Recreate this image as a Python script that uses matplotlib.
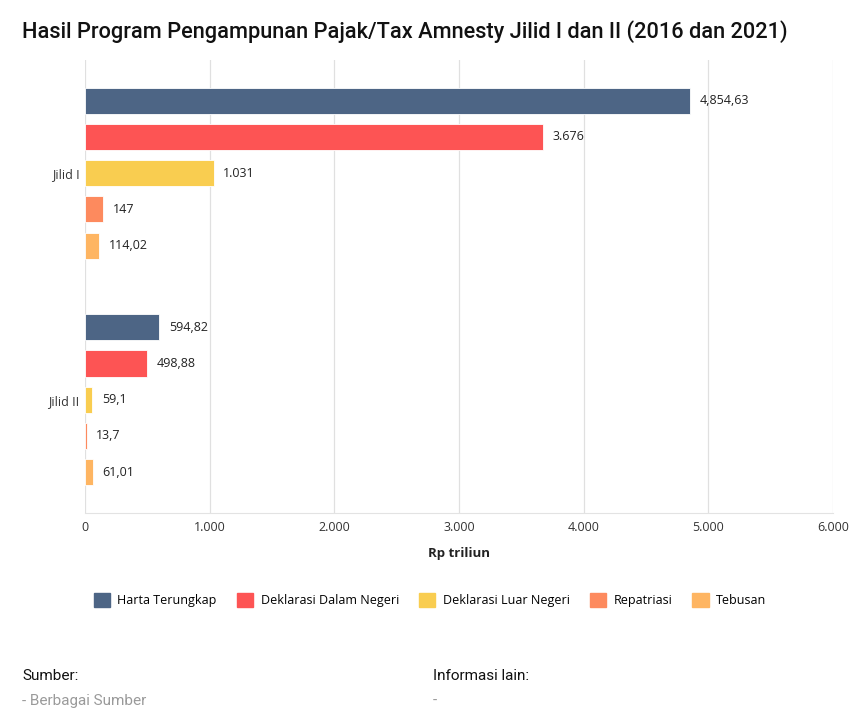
import matplotlib.pyplot as plt
import numpy as np
from matplotlib.patches import Patch

plt.rcParams["font.family"] = ["Open Sans", "DejaVu Sans"]

groups = ["Jilid I", "Jilid II"]
series = ["Harta Terungkap", "Deklarasi Dalam Negeri", "Deklarasi Luar Negeri",
          "Repatriasi", "Tebusan"]
colors = ["#4d6585", "#fd5454", "#f9cd50", "#fd8a5e", "#feb562"]

# values per series, [Jilid I, Jilid II]
values = [
    [4854.63, 594.82],
    [3676, 498.88],
    [1031, 59.1],
    [147, 13.7],
    [114.02, 61.01],
]
labels = [
    ["4,854,63", "594,82"],
    ["3.676", "498,88"],
    ["1.031", "59,1"],
    ["147", "13,7"],
    ["114,02", "61,01"],
]

xticks = [0, 1000, 2000, 3000, 4000, 5000, 6000]
xtick_labels = ["0", "1.000", "2.000", "3.000", "4.000", "5.000", "6.000"]

fig = plt.figure(figsize=(8.6, 7.26), dpi=100)
ax = fig.add_axes([0.0988, 0.2934, 0.8698, 0.624])

step = 0.16
height = 0.115
base = np.arange(len(groups))
for i, (name, col) in enumerate(zip(series, colors)):
    ypos = base + (i - 2) * step
    ax.barh(ypos, values[i], height=height, color=col, edgecolor="white",
            linewidth=0.6, zorder=3)
    for y, v, lab in zip(ypos, values[i], labels[i]):
        ax.annotate(lab, (v, y), xytext=(7, 0), textcoords="offset points",
                    va="center", ha="left", fontsize=9, color="#222222")

ax.set_ylim(1.5, -0.5)
ax.set_xlim(0, 6000)
ax.set_yticks(base)
ax.set_yticklabels(groups, fontsize=9, color="#333333")
ax.set_xticks(xticks)
ax.set_xticklabels(xtick_labels, fontsize=9, color="#333333")
ax.tick_params(length=0, pad=6)
ax.tick_params(axis="y", pad=4)
ax.grid(axis="x", color="#e0e0e0", linewidth=0.9, zorder=0)
for s in ["top", "right", "left"]:
    ax.spines[s].set_visible(False)
ax.spines["bottom"].set_color("#e3e3e3")
ax.set_xlabel("Rp triliun", fontsize=9.5, fontweight="bold", color="#222222",
              labelpad=9)

handles = [Patch(facecolor=c, edgecolor=c, label=n) for n, c in zip(series, colors)]
fig.legend(handles=handles, loc="center", bbox_to_anchor=(0.5, 1 - 600 / 726),
           ncol=5, frameon=False, fontsize=9, handlelength=1.3, handleheight=1.3,
           handletextpad=0.6, columnspacing=1.6)

fig.text(22 / 860, 1 - 32 / 726,
         "Hasil Program Pengampunan Pajak/Tax Amnesty Jilid I dan II (2016 dan 2021)",
         family="Roboto", fontsize=15.7, fontweight="medium", va="center", ha="left",
         color="#111111")

fig.text(22 / 860, 1 - 676 / 726, "Sumber:", family="Roboto", fontsize=11,
         va="center", color="#111111")
fig.text(22 / 860, 1 - 701 / 726, "- Berbagai Sumber", family="Roboto",
         fontsize=11, va="center", color="#9a9a9a")
fig.text(433 / 860, 1 - 676 / 726, "Informasi lain:", family="Roboto", fontsize=11,
         va="center", color="#111111")
fig.text(433 / 860, 1 - 701 / 726, "-", family="Roboto", fontsize=11,
         va="center", color="#9a9a9a")

fig.savefig("out.png", dpi=100)
